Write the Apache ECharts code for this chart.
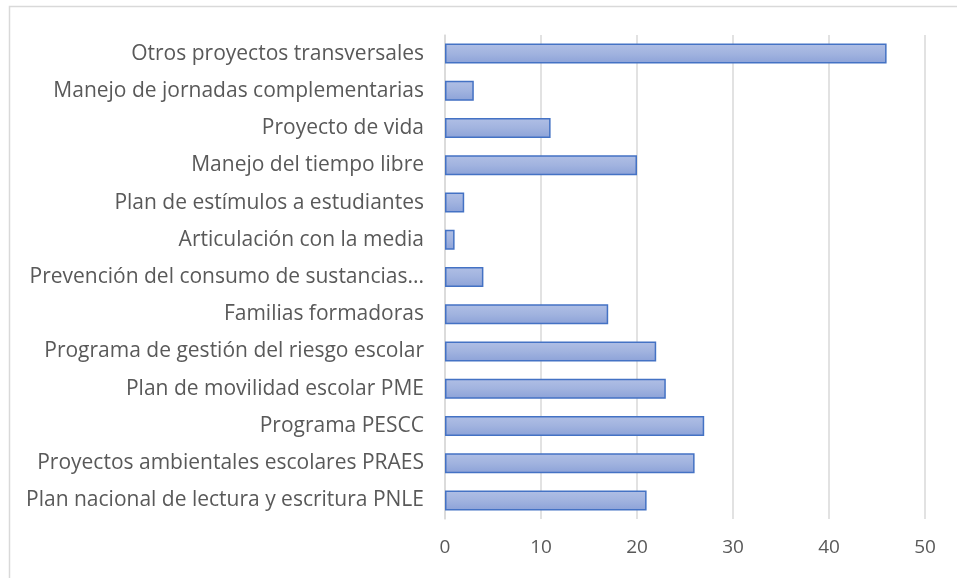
<!DOCTYPE html>
<html>
<head>
<meta charset="utf-8">
<script src="https://cdn.jsdelivr.net/npm/echarts@6/dist/echarts.min.js"></script>
<style>html,body{margin:0;padding:0;background:#fff}#c{width:957px;height:578px}</style>
</head>
<body>
<div id="c"></div>
<script>
const categories = [
  "Otros proyectos transversales",
  "Manejo de jornadas complementarias",
  "Proyecto de vida",
  "Manejo del tiempo libre",
  "Plan de estímulos a estudiantes",
  "Articulación con la media",
  "Prevención del consumo de sustancias...",
  "Familias formadoras",
  "Programa de gestión del riesgo escolar",
  "Plan de movilidad escolar PME",
  "Programa PESCC",
  "Proyectos ambientales escolares PRAES",
  "Plan nacional de lectura y escritura PNLE"
];
const values = [46, 3, 11, 20, 2, 1, 4, 17, 22, 23, 27, 26, 21];
const xTicks = [0, 10, 20, 30, 40, 50];

const chart = echarts.init(document.getElementById('c'));
chart.setOption({
  animation: false,
  graphic: [{
    type: 'rect',
    shape: {x: 9.5, y: 6.5, width: 1000, height: 1000},
    style: {fill: 'none', stroke: '#d9d9d9', lineWidth: 1.5},
    silent: true
  }],
  grid: {left: 445, right: 32, top: 35, bottom: 59, containLabel: false},
  xAxis: {
    type: 'value',
    min: xTicks[0],
    max: xTicks[xTicks.length - 1],
    interval: 10,
    axisLine: {show: false},
    axisTick: {show: false},
    splitLine: {show: true, lineStyle: {color: '#d9d9d9', width: 1.5}},
    axisLabel: {color: '#595959', fontSize: 19, fontFamily: 'Open Sans', margin: 19}
  },
  yAxis: {
    type: 'category',
    data: categories,
    inverse: true,
    axisLine: {show: true, lineStyle: {color: '#d9d9d9', width: 1.5}},
    axisTick: {show: false},
    axisLabel: {color: '#595959', fontSize: 21, fontFamily: 'Open Sans', margin: 21}
  },
  series: [{
    type: 'bar',
    data: values,
    barWidth: 20,
    itemStyle: {
      color: new echarts.graphic.LinearGradient(0, 0, 0, 1, [
        {offset: 0, color: '#b0bfe5'},
        {offset: 0.5, color: '#a1b3df'},
        {offset: 1, color: '#8ca2d8'}
      ]),
      borderColor: '#4472c4',
      borderWidth: 1.5
    }
  }]
});
</script>
</body>
</html>
